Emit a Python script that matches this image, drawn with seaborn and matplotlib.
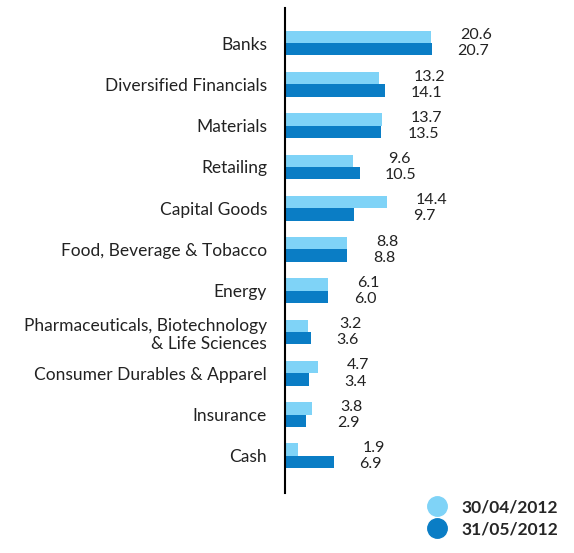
import matplotlib.pyplot as plt
import pandas as pd
import seaborn as sns
from matplotlib.lines import Line2D

categories = [
    "Banks",
    "Diversified Financials",
    "Materials",
    "Retailing",
    "Capital Goods",
    "Food, Beverage & Tobacco",
    "Energy",
    "Pharmaceuticals, Biotechnology\n& Life Sciences",
    "Consumer Durables & Apparel",
    "Insurance",
    "Cash",
]
april = [20.6, 13.2, 13.7, 9.6, 14.4, 8.8, 6.1, 3.2, 4.7, 3.8, 1.9]
may = [20.7, 14.1, 13.5, 10.5, 9.7, 8.8, 6.0, 3.6, 3.4, 2.9, 6.9]
series = ["30/04/2012", "31/05/2012"]
colors = ["#7fd3f7", "#0a7dc5"]

df = pd.DataFrame({
    "sector": categories * 2,
    "value": april + may,
    "date": [series[0]] * len(categories) + [series[1]] * len(categories),
})

sns.set_style("white")
plt.rcParams["font.family"] = ["Lato", "DejaVu Sans"]

fig = plt.figure(figsize=(5.74, 5.53), dpi=100)
ax = fig.add_axes([0.4965, 0.1085, 0.46, 0.877])

sns.barplot(
    data=df, x="value", y="sector", hue="date", order=categories,
    hue_order=series, palette=colors, width=0.6, orient="h",
    saturation=1, linewidth=0, legend=False, ax=ax,
)

# value labels, a bit right of the longer bar of each pair
for i, (a, b) in enumerate(zip(april, may)):
    xpos = max(a, b) + 4
    ax.text(xpos, i - 0.19, f"{a:.1f}", va="center", ha="left", fontsize=11.5, color="#222222")
    ax.text(xpos - 0.4, i + 0.2, f"{b:.1f}", va="center", ha="left", fontsize=11.5, color="#222222")

ax.set_xlim(0, 37.2)
ax.set_ylim(10.9, -0.85)
ax.set_xlabel("")
ax.set_ylabel("")
ax.set_xticks([])
for s in ["top", "right", "bottom"]:
    ax.spines[s].set_visible(False)
ax.spines["left"].set_color("black")
ax.spines["left"].set_linewidth(1.5)
ax.tick_params(axis="y", length=0, pad=13, labelsize=12.5, labelcolor="#222222")
for lbl in ax.get_yticklabels():
    lbl.set_horizontalalignment("right")
    lbl.set_multialignment("right")

handles = [
    Line2D([], [], marker="o", linestyle="", markersize=14, color=c) for c in colors
]
fig.legend(
    handles, series, loc="lower right", bbox_to_anchor=(1.0, 0.0),
    frameon=False, prop={"weight": "bold", "size": 12.5},
    handletextpad=0.4, labelspacing=0.35,
)

fig.savefig("out.png", dpi=100)
